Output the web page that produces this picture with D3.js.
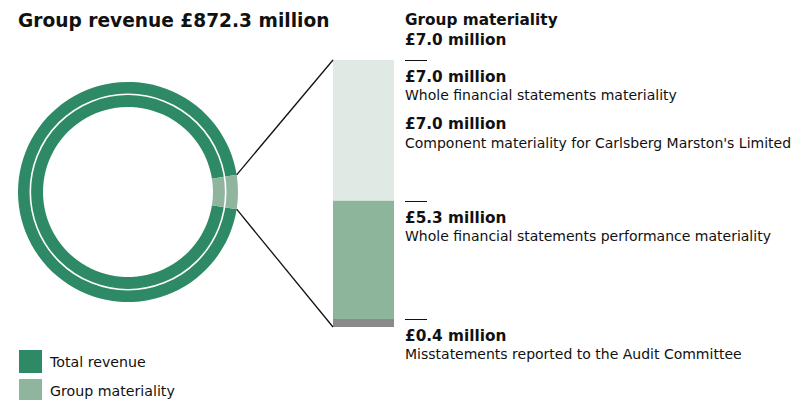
<!DOCTYPE html>
<html>
<head>
<meta charset="utf-8">
<script src="https://cdn.jsdelivr.net/npm/d3@7"></script>
<style>
  html, body { margin: 0; padding: 0; background: #fff; }
  svg { display: block; font-family: "DejaVu Sans", sans-serif; }
</style>
</head>
<body>
<svg id="chart" width="793" height="400"></svg>
<script>
// Revenue and materiality figures (£ million)
const groupRevenue = 872.3;
const groupMateriality = 7.0;

// Materiality levels shown beside the bar
const levelValues = [7.0, 7.0, 5.3, 0.4];
const levelDescriptions = [
  "Whole financial statements materiality",
  "Component materiality for Carlsberg Marston's Limited",
  "Whole financial statements performance materiality",
  "Misstatements reported to the Audit Committee"
];

// Bar segments (from, to) in £ million
const segmentStarts = [0, 0.4, 5.3];
const segmentEnds = [0.4, 5.3, 7.0];

const legendLabels = ["Total revenue", "Group materiality"];

const colors = {
  revenue: "#2e8a66",
  materiality: "#8fb59e",
  barLight: "#e0e9e4",
  barMid: "#8db59c",
  barLow: "#8a8a8a",
  text: "#111"
};
const segmentColors = [colors.barLow, colors.barMid, colors.barLight];
const money = v => "£" + d3.format(".1f")(v) + " million";

const svg = d3.select("#chart");

// Title
svg.append("text")
  .attr("x", 18).attr("y", 27)
  .attr("font-size", 18.6).attr("font-weight", 700)
  .attr("fill", colors.text)
  .text("Group revenue " + money(groupRevenue));

// ---- Donut ----
const cx = 128, cy = 192, rOuter = 110, rInner = 85;
const donut = svg.append("g").attr("transform", `translate(${cx},${cy})`);

const pie = d3.pie().sort(null).value(d => d);
const slices = pie([groupRevenue - groupMateriality, groupMateriality]);
// keep the small materiality slice visible, centred on 3 o'clock
const minSliceAngle = 0.314;
const matAngle = Math.max(slices[1].endAngle - slices[1].startAngle, minSliceAngle);
const matStart = Math.PI / 2 - matAngle / 2;
const matEnd = Math.PI / 2 + matAngle / 2;
const arcData = [
  { start: matEnd, end: matStart + 2 * Math.PI, color: colors.revenue },
  { start: matStart, end: matEnd, color: colors.materiality }
];
const arc = d3.arc().innerRadius(rInner).outerRadius(rOuter);
donut.selectAll("path.slice").data(arcData).join("path")
  .attr("class", "slice")
  .attr("d", d => arc({ startAngle: d.start, endAngle: d.end }))
  .attr("fill", d => d.color);
donut.append("circle")
  .attr("r", (rInner + rOuter) / 2 + 0.2)
  .attr("fill", "none").attr("stroke", "#fff").attr("stroke-width", 1.6);

// ---- Bar ----
const barX = 333, barW = 61;
const y = d3.scaleLinear()
  .domain([0, 0.4, 5.3, 7.0])
  .range([327, 319, 200.5, 60]);

svg.append("g").selectAll("rect").data(segmentStarts).join("rect")
  .attr("x", barX)
  .attr("width", barW)
  .attr("y", (d, i) => y(segmentEnds[i]))
  .attr("height", (d, i) => y(d) - y(segmentEnds[i]))
  .attr("fill", (d, i) => segmentColors[i]);

// Connectors from the slice to the bar
const pt = a => [cx + rOuter * Math.sin(a), cy - rOuter * Math.cos(a)];
const links = [
  [pt(matStart), [barX, y(groupMateriality)]],
  [pt(matEnd), [barX, y(0)]]
];
svg.append("g").selectAll("line").data(links).join("line")
  .attr("x1", d => d[0][0]).attr("y1", d => d[0][1])
  .attr("x2", d => d[1][0]).attr("y2", d => d[1][1])
  .attr("stroke", "#111").attr("stroke-width", 1.3);

// ---- Labels ----
const lx = 405;
const boldSize = 15.3, descSize = 14;
svg.append("text").attr("x", lx).attr("y", 25)
  .attr("font-size", boldSize).attr("font-weight", 700).attr("fill", colors.text)
  .text("Group materiality");
svg.append("text").attr("x", lx).attr("y", 45)
  .attr("font-size", boldSize).attr("font-weight", 700).attr("fill", colors.text)
  .text(money(groupMateriality));

// One tick per distinct level; labels stack below each tick
const tickValues = Array.from(new Set(levelValues));
const labels = svg.append("g");
tickValues.forEach(v => {
  const ty = Math.round(y(v)) + 0.5;
  labels.append("line")
    .attr("x1", lx).attr("x2", lx + 22)
    .attr("y1", ty).attr("y2", ty)
    .attr("stroke", "#111").attr("stroke-width", 1);
  levelValues.forEach((lv, i) => {
    if (lv !== v) return;
    const k = levelValues.slice(0, i).filter(x => x === v).length;
    const base = ty + 21 + k * 47.5;
    labels.append("text").attr("x", lx).attr("y", base)
      .attr("font-size", boldSize).attr("font-weight", 700).attr("fill", colors.text)
      .text(money(lv));
    labels.append("text").attr("x", lx).attr("y", base + 18.5)
      .attr("font-size", descSize).attr("fill", colors.text)
      .text(levelDescriptions[i]);
  });
});

// ---- Legend ----
const legendColors = [colors.revenue, colors.materiality];
const legend = svg.append("g").selectAll("g").data(legendLabels).join("g")
  .attr("transform", (d, i) => `translate(19,${350 + i * 29})`);
legend.append("rect").attr("width", 23).attr("height", 23)
  .attr("fill", (d, i) => legendColors[i]);
legend.append("text").attr("x", 31).attr("y", 17)
  .attr("font-size", 14.2).attr("fill", colors.text)
  .text(d => d);
</script>
</body>
</html>
